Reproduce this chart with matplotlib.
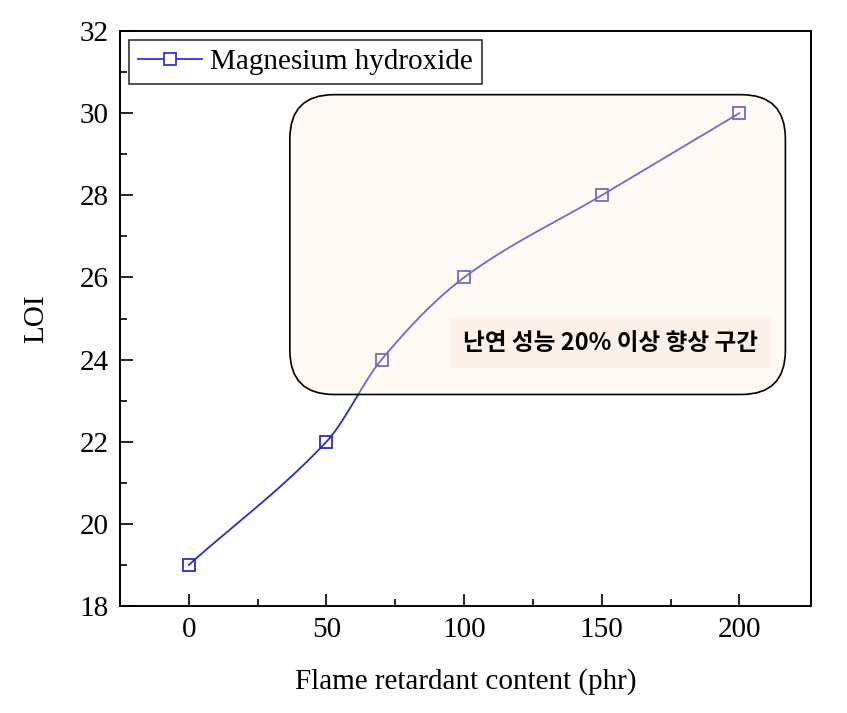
import numpy as np
import matplotlib.pyplot as plt
from matplotlib.patches import FancyBboxPatch

content = [0, 50, 70, 100, 150, 200]
loi = [19, 22, 24, 26, 28, 30]
series_name = 'Magnesium hydroxide'
note = '난연 성능 20% 이상 향상 구간'


def smooth_line(x, y, n=300):
    # cubic Hermite with centred-difference slopes, only to smooth the connecting line
    x = np.asarray(x, float)
    y = np.asarray(y, float)
    h = np.diff(x)
    m = np.zeros(len(x))
    m[0] = (y[1] - y[0]) / h[0]
    m[-1] = (y[-1] - y[-2]) / h[-1]
    m[1:-1] = (y[2:] - y[:-2]) / (x[2:] - x[:-2])
    xs = np.linspace(x[0], x[-1], n)
    idx = np.clip(np.searchsorted(x, xs) - 1, 0, len(x) - 2)
    hh = h[idx]
    t = (xs - x[idx]) / hh
    h00 = 2 * t ** 3 - 3 * t ** 2 + 1
    h10 = t ** 3 - 2 * t ** 2 + t
    h01 = -2 * t ** 3 + 3 * t ** 2
    h11 = t ** 3 - t ** 2
    ys = h00 * y[idx] + h10 * hh * m[idx] + h01 * y[idx + 1] + h11 * hh * m[idx + 1]
    return xs, ys


plt.rcParams['font.family'] = ['Liberation Serif', 'DejaVu Serif']

fig = plt.figure(figsize=(8.47, 7.13), dpi=100)
ax = fig.add_axes([120 / 847, 1 - 606 / 713, 691 / 847, 575 / 713])

xs, ys = smooth_line(content, loi)
ax.plot(xs, ys, color='#2c2cc4', linewidth=1.3, zorder=2)
ax.plot(content, loi, linestyle='none', marker='s', markersize=9,
        markerfacecolor='none', markeredgecolor='#2c2cc4', markeredgewidth=1.3, zorder=3)
# legend proxy
ax.plot([], [], color='#3333dd', marker='s', markersize=9, markerfacecolor='white',
        markeredgecolor='#3333dd', markeredgewidth=1.3, linewidth=1.3, label=series_name)

# translucent rounded region drawn over the line
box = FancyBboxPatch((36.7, 23.15), 180, 7.3,
                     boxstyle='round,pad=0,rounding_size=16',
                     mutation_aspect=0.067,
                     facecolor=(0.99, 0.93, 0.88, 0.32), edgecolor='black',
                     linewidth=1.2, zorder=4)
ax.add_patch(box)

ax.text(153.2, 24.4, note, fontsize=17, fontweight='bold', ha='center', va='center',
        family=['Noto Sans CJK KR', 'DejaVu Sans'], zorder=5,
        bbox=dict(boxstyle='square,pad=0.55', facecolor='#fbf1e9', edgecolor='none'))

ax.set_xlim(-25, 226)
ax.set_ylim(18, 32)
ax.set_xticks([0, 50, 100, 150, 200])
ax.set_xticks([25, 75, 125, 175], minor=True)
ax.set_yticks(range(18, 33, 2))
ax.set_yticks(range(19, 32, 2), minor=True)
ax.tick_params(which='both', direction='in', top=False, right=False, labelsize=21,
               width=1.2)
ax.tick_params(which='major', length=9, pad=8)
ax.tick_params(which='minor', length=5)
for s in ax.spines.values():
    s.set_linewidth(1.4)

ax.set_xlabel('Flame retardant content (phr)', fontsize=21, labelpad=18)
ax.set_ylabel('LOI', fontsize=21, labelpad=22)

leg = ax.legend(loc='upper left', fontsize=21, handlelength=2.2, handletextpad=0.3,
                borderpad=0.3, fancybox=False, borderaxespad=0.3)
leg.get_frame().set_edgecolor('black')
leg.get_frame().set_linewidth(1.2)

fig.savefig('out.png', dpi=100)
